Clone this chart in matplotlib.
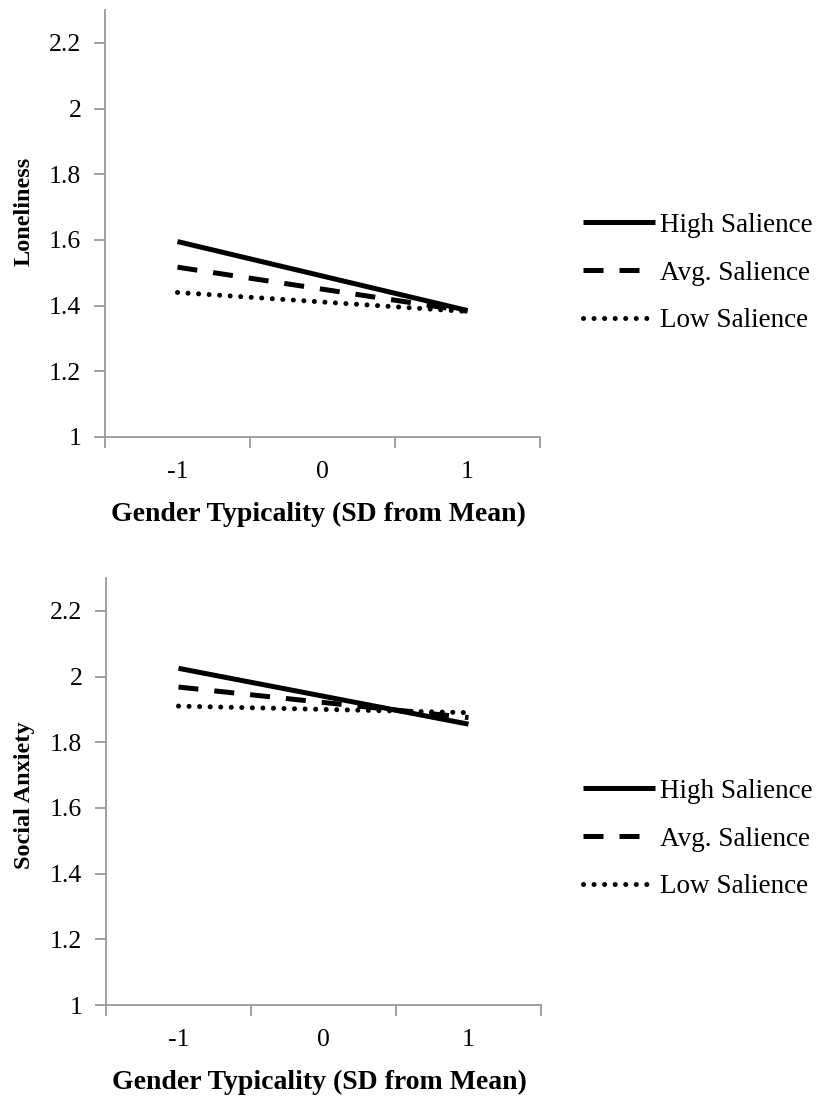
import matplotlib
matplotlib.use('Agg')
from matplotlib import pyplot as plt

plt.rcParams['font.family'] = ['Liberation Serif', 'DejaVu Serif']

# data
x_vals = [-1, 0, 1]
x_labels = ['-1', '0', '1']
series_names = ['High Salience', 'Avg. Salience', 'Low Salience']

loneliness = {
    'High Salience': [1.595, 1.49, 1.385],
    'Avg. Salience': [1.517, 1.45, 1.383],
    'Low Salience': [1.44, 1.411, 1.382],
}
anxiety = {
    'High Salience': [2.025, 1.94, 1.855],
    'Avg. Salience': [1.968, 1.921, 1.875],
    'Low Salience': [1.91, 1.90, 1.89],
}

y_ticks = [1, 1.2, 1.4, 1.6, 1.8, 2, 2.2]
y_ticklabels = ['1', '1.2', '1.4', '1.6', '1.8', '2', '2.2']

styles = {
    'High Salience': dict(linestyle='-', linewidth=3.6),
    'Avg. Salience': dict(linestyle=(0, (4, 3.2)), linewidth=3.6),
    'Low Salience': dict(linestyle=(0, (0.01, 2.1)), linewidth=3.6,
                         dash_capstyle='round'),
}

fig = plt.figure(figsize=(8.16, 10.96), dpi=100)
ax1 = fig.add_axes([105/816, 1 - 437/1096, 435/816, 427/1096])
ax2 = fig.add_axes([106/816, 1 - 1005/1096, 435/816, 427/1096])

spine_col = '#999999'

def draw(ax, data, ylabel, ylab_y, leg_y):
    for name in series_names:
        ax.plot(x_vals, data[name], color='black', label=name,
                solid_capstyle='butt', **styles[name])
    ax.set_xlim(-1.5, 1.5)
    ax.set_ylim(1, 2.3)
    ax.set_yticks(y_ticks)
    ax.set_yticklabels(y_ticklabels, fontsize=18.5)
    ax.set_xticks(x_vals)
    ax.set_xticklabels(x_labels, fontsize=18.5)
    ax.tick_params(axis='x', which='major', length=0, pad=17)
    ax.set_xticks([-1.5, -0.5, 0.5, 1.5], minor=True)
    ax.tick_params(axis='x', which='minor', length=8, color=spine_col, width=1.3)
    ax.tick_params(axis='y', length=8, color=spine_col, width=1.3, pad=9)
    for s in ['top', 'right']:
        ax.spines[s].set_visible(False)
    for s in ['left', 'bottom']:
        ax.spines[s].set_color(spine_col)
        ax.spines[s].set_linewidth(1.3)
    ax.set_xlabel('Gender Typicality (SD from Mean)', fontsize=20,
                  fontweight='bold')
    ax.xaxis.set_label_coords(0.49, -0.152)
    ax.set_ylabel(ylabel, fontsize=17.5, fontweight='bold')
    ax.yaxis.set_label_coords(-0.163, ylab_y)
    fig.legend(*ax.get_legend_handles_labels(), loc='center left',
               bbox_to_anchor=(583/816, leg_y), frameon=False,
               fontsize=19.5, handlelength=2.65, handletextpad=0.2,
               labelspacing=0.84, borderpad=0, borderaxespad=0)

draw(ax1, loneliness, 'Loneliness', 0.529, 1 - 273/1096)
draw(ax2, anxiety, 'Social Anxiety', 0.492, 1 - 839/1096)

fig.savefig('out.png', dpi=100)
